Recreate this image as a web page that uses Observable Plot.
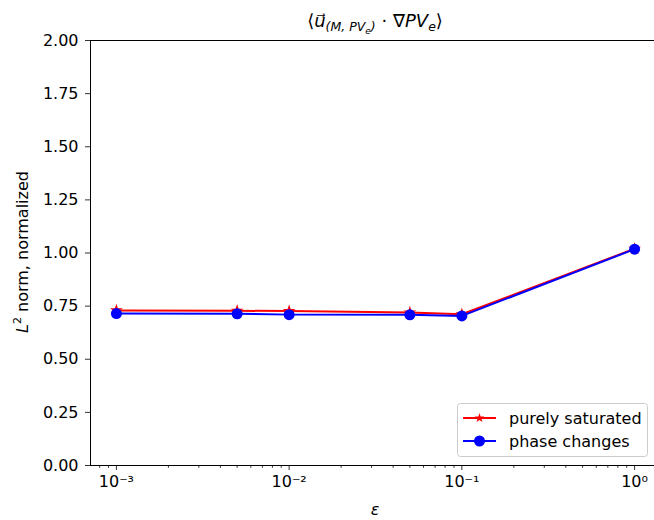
<!DOCTYPE html>
<html>
<head>
<meta charset="utf-8">
<script src="https://cdn.jsdelivr.net/npm/d3@7"></script>
<script src="https://cdn.jsdelivr.net/npm/@observablehq/plot@0.6"></script>
<style>
  html, body { margin: 0; padding: 0; background: #fff; }
  #chart { width: 654px; height: 520px; }
</style>
</head>
<body>
<div id="chart"></div>
<script>
// ---- data ----
const eps = [0.001, 0.005, 0.01, 0.05, 0.1, 1];
const purelySaturated = [0.730, 0.728, 0.727, 0.720, 0.712, 1.020];
const phaseChanges = [0.715, 0.714, 0.710, 0.709, 0.704, 1.018];
const seriesNames = ["purely saturated", "phase changes"];
const seriesColors = ["red", "blue"];
const xMajorTicks = [1e-3, 1e-2, 1e-1, 1e0];
const yTicks = [0, 0.25, 0.5, 0.75, 1.0, 1.25, 1.5, 1.75, 2.0];
const yDomain = [0, 2];
const xDomain = [Math.pow(10, -3.15), Math.pow(10, 0.1153)];

const rowsSat = eps.map((e, i) => ({eps: e, v: purelySaturated[i]}));
const rowsPh = eps.map((e, i) => ({eps: e, v: phaseChanges[i]}));

// minor ticks of the log axis
const xMinorTicks = [];
for (const d of [1e-4, 1e-3, 1e-2, 1e-1, 1e0]) {
  for (let k = 2; k <= 9; k++) {
    const t = d * k;
    if (t >= xDomain[0] && t <= xDomain[1]) xMinorTicks.push(t);
  }
}

const supMap = {"-": "\u207B", "0": "\u2070", "1": "\u00B9", "2": "\u00B2", "3": "\u00B3",
  "4": "\u2074", "5": "\u2075", "6": "\u2076", "7": "\u2077", "8": "\u2078", "9": "\u2079"};
const pow10 = (v) => "10" + String(Math.round(Math.log10(v))).split("").map(c => supMap[c]).join("");

const FONT = "DejaVu Sans, sans-serif";
const FS = 16;

const svg = Plot.plot({
  width: 654,
  height: 520,
  marginLeft: 90,
  marginRight: 0,
  marginTop: 40,
  marginBottom: 55,
  style: {fontFamily: FONT, fontSize: FS + "px", color: "black", background: "white"},
  x: {type: "log", domain: xDomain, label: null},
  y: {domain: yDomain, label: null},
  marks: [
    Plot.ruleY(yDomain, {stroke: "black", strokeWidth: 1}),
    Plot.ruleX([xDomain[0]], {stroke: "black", strokeWidth: 1}),
    Plot.axisX(xMinorTicks, {tickSize: 2.8, tickFormat: () => "", strokeWidth: 0.8, label: null}),
    Plot.axisX(xMajorTicks, {tickSize: 5, tickPadding: 5, tickFormat: pow10, fontSize: FS, label: null, strokeWidth: 0.8}),
    Plot.axisY(yTicks, {tickSize: 5, tickPadding: 7, tickFormat: d3.format(".2f"), fontSize: FS, label: null, strokeWidth: 0.8}),
    Plot.line(rowsSat, {x: "eps", y: "v", stroke: seriesColors[0], strokeWidth: 2}),
    Plot.dot(rowsSat, {x: "eps", y: "v", symbol: "star", r: 4, fill: seriesColors[0]}),
    Plot.line(rowsPh, {x: "eps", y: "v", stroke: seriesColors[1], strokeWidth: 2}),
    Plot.dot(rowsPh, {x: "eps", y: "v", symbol: "circle", r: 5.5, fill: seriesColors[1]})
  ]
});

document.getElementById("chart").appendChild(svg);

const s = d3.select(svg);

// ---- title ----
const title = s.append("text")
  .attr("x", 375).attr("y", 27)
  .attr("text-anchor", "middle")
  .attr("font-family", FONT)
  .attr("font-size", 18)
  .attr("fill", "black");
title.append("tspan").text("\u27E8");
title.append("tspan").attr("font-style", "italic").text("u\u20D7");
title.append("tspan").attr("font-size", 12.5).attr("dy", 4).attr("font-style", "italic").text("(M, PV");
title.append("tspan").attr("font-size", 9).attr("dy", 2.5).attr("font-style", "italic").text("e");
title.append("tspan").attr("font-size", 12.5).attr("dy", -2.5).attr("font-style", "italic").text(")");
title.append("tspan").attr("dy", -4).text(" \u00B7 \u2207");
title.append("tspan").attr("font-style", "italic").text("PV");
title.append("tspan").attr("font-size", 12.5).attr("dy", 4).attr("font-style", "italic").text("e");
title.append("tspan").attr("dy", -4).text("\u27E9");

// ---- y label ----
const yl = s.append("text")
  .attr("transform", "translate(28,252) rotate(-90)")
  .attr("text-anchor", "middle")
  .attr("font-family", FONT)
  .attr("font-size", FS)
  .attr("fill", "black");
yl.append("tspan").attr("font-style", "italic").text("L");
yl.append("tspan").attr("font-size", 11).attr("dy", -7).text("2");
yl.append("tspan").attr("dy", 7).text(" norm, normalized");

// ---- x label ----
s.append("text")
  .attr("x", 375).attr("y", 515)
  .attr("text-anchor", "middle")
  .attr("font-family", FONT)
  .attr("font-size", FS)
  .attr("font-style", "italic")
  .attr("fill", "black")
  .text("\u03B5");

// ---- legend ----
const lg = s.append("g").attr("text-anchor", "start");
lg.append("rect")
  .attr("x", 457.5).attr("y", 403.5).attr("width", 190).attr("height", 53)
  .attr("rx", 3).attr("fill", "white").attr("fill-opacity", 0.8)
  .attr("stroke", "#cccccc").attr("stroke-width", 1);
const rowsY = [418, 441];
seriesNames.forEach((name, i) => {
  const y = rowsY[i];
  lg.append("line").attr("x1", 463).attr("x2", 496).attr("y1", y).attr("y2", y)
    .attr("stroke", seriesColors[i]).attr("stroke-width", 2);
  if (i === 0) {
    lg.append("path").attr("d", d3.symbol(d3.symbolStar, Math.PI * 3.2 * 3.2 * 0.9)())
      .attr("transform", `translate(479.5,${y})`).attr("fill", seriesColors[i]);
  } else {
    lg.append("circle").attr("cx", 479.5).attr("cy", y).attr("r", 5.5).attr("fill", seriesColors[i]);
  }
  lg.append("text").attr("x", 509).attr("y", y + 5.5)
    .attr("text-anchor", "start")
    .attr("font-family", FONT).attr("font-size", FS).attr("fill", "black")
    .text(name);
});
</script>
</body>
</html>
